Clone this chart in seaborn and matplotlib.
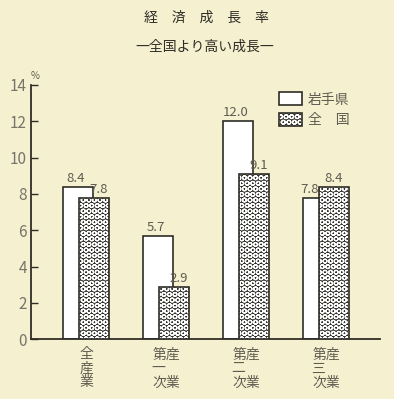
import matplotlib
matplotlib.use("Agg")
import matplotlib.pyplot as plt
import seaborn as sns
import pandas as pd
from matplotlib.patches import Patch
from matplotlib.colors import to_rgba

# data
categories = ["全\n産\n業", "第産\n一　\n次業", "第産\n二　\n次業", "第産\n三　\n次業"]
series = ["岩手県", "全　国"]
iwate = [8.4, 5.7, 12.0, 7.8]
national = [7.8, 2.9, 9.1, 8.4]
yticks = [0, 2, 4, 6, 8, 10, 12, 14]

bg = "#f5f0d0"
ink = "#2e2d26"
soft = "#5f5c50"
dot_face = "#2f2e27"

sns.set_theme(style="white")
plt.rcParams["font.family"] = ["Noto Sans CJK JP", "DejaVu Sans"]
plt.rcParams["hatch.linewidth"] = 0.9


def dotted(patch):
    """White rings on a dark face, outline kept dark."""
    patch.set_facecolor(dot_face)
    patch.set_hatch("OOO")
    if hasattr(patch, "set_hatchcolor"):
        patch.set_hatchcolor("white")
    else:
        patch._hatch_color = to_rgba("white")
    if hasattr(patch, "set_hatch_linewidth"):
        patch.set_hatch_linewidth(0.9)
    patch.stale = True


df = pd.DataFrame({
    "cat": categories * 2,
    "series": [series[0]] * 4 + [series[1]] * 4,
    "val": iwate + national,
})

fig = plt.figure(figsize=(3.94, 3.99), dpi=100, facecolor=bg)
ax = fig.add_axes([0.0787, 0.150, 0.885, 0.637])
ax.set_facecolor(bg)

sns.barplot(data=df, x="cat", y="val", hue="series", hue_order=series,
            order=categories, width=0.75, ax=ax, legend=False,
            palette=["white", "white"], edgecolor=ink, linewidth=1.2,
            saturation=1)

# overlap the two bars of each group
shift = 0.09
for ci, cont in enumerate(ax.containers):
    for bar in cont:
        x = bar.get_x()
        if ci == 0:
            bar.set_x(x + shift)
            bar.set_zorder(2)
        else:
            bar.set_x(x - shift)
            bar.set_zorder(3)
            dotted(bar)

# value labels
for ci, cont in enumerate(ax.containers):
    vals = iwate if ci == 0 else national
    for i, (bar, v) in enumerate(zip(cont, vals)):
        cx = bar.get_x() + bar.get_width() / 2
        if ci == 1:
            cx += 0.06 if v < iwate[i] else 0.0
        else:
            cx -= 0.03 if v > national[i] else 0.11
        ax.text(cx, bar.get_height() + 0.1, f"{v:.1f}", ha="center", va="bottom",
                fontsize=9.5, color=soft, zorder=5)

ax.set_xlim(-0.69, 3.67)
ax.set_ylim(0, 14)
ax.set_yticks(yticks)
ax.set_yticklabels([str(t) for t in yticks])
ax.set_xlabel("")
ax.set_ylabel("")

for s in ["top", "right"]:
    ax.spines[s].set_visible(False)
for s in ["left", "bottom"]:
    ax.spines[s].set_color(ink)
    ax.spines[s].set_linewidth(1.3)

ax.tick_params(axis="y", direction="in", length=5, width=1.0, color=ink,
               labelsize=11, labelcolor="#77746a", pad=3, left=True)
ax.tick_params(axis="x", length=0, labelsize=10, labelcolor=soft, pad=6)
for lab in ax.get_xticklabels():
    lab.set_linespacing(1.0)
    lab.set_va("top")

ax.text(-0.69, 14.2, "%", fontsize=7, color=soft, ha="left", va="bottom")

# legend
h_white = Patch(facecolor="white", edgecolor=ink, linewidth=1.2, label=series[0])
h_dot = Patch(facecolor="white", edgecolor=ink, linewidth=1.2, label=series[1])
dotted(h_dot)
leg = ax.legend(handles=[h_white, h_dot], loc="upper left",
                bbox_to_anchor=(0.675, 1.02), frameon=False, fontsize=10,
                handlelength=1.7, handleheight=1.05, handletextpad=0.4,
                labelspacing=0.45, labelcolor=soft)

fig.text(0.525, 0.955, "経　済　成　長　率", ha="center", va="center",
         fontsize=10, color=ink)
fig.text(0.52, 0.882, "一全国より高い成長一", ha="center", va="center",
         fontsize=10, color=ink)

fig.savefig("out.png", dpi=100, facecolor=bg)
